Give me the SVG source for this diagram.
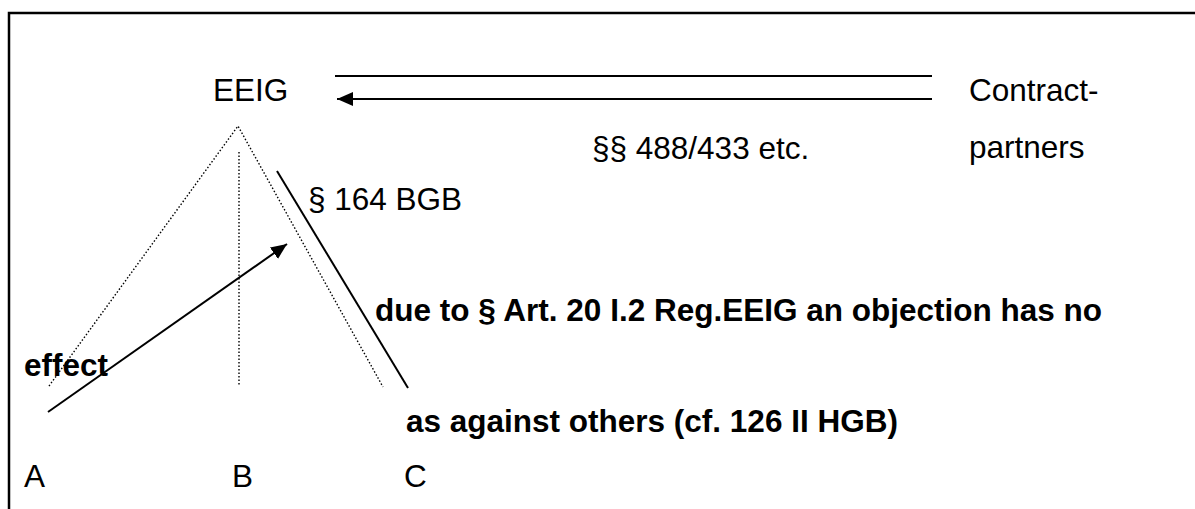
<svg xmlns="http://www.w3.org/2000/svg" width="1195" height="509" viewBox="0 0 1195 509">
  <style>
    .t { font-family: "Liberation Sans", Arial, sans-serif; font-size: 31.5px; fill: #000; }
    .b { font-weight: bold; }
    .solid { stroke: #000; stroke-width: 2; fill: none; }
    .dot { stroke: #000; stroke-width: 1.4; fill: none; stroke-dasharray: 1.5 2; }
  </style>
  <defs>
    <marker id="head" markerUnits="userSpaceOnUse" markerWidth="18" markerHeight="16" refX="16" refY="7" orient="auto">
      <path d="M0,0 L16,7 L0,14 z" fill="#000"/>
    </marker>
  </defs>
  <rect width="1195" height="509" fill="#fff"/>

  <!-- page frame (top and left edges only visible) -->
  <path d="M9,509 V13 H1195" fill="none" stroke="#000" stroke-width="2.5"/>

  <g id="eeig">
    <text class="t" x="213" y="101">EEIG</text>
  </g>

  <g id="contract-partners">
    <text class="t" x="969" y="101">Contract-</text>
    <text class="t" x="969" y="158">partners</text>
  </g>

  <g id="members">
    <g id="member-a"><text class="t" x="24" y="487">A</text></g>
    <g id="member-b"><text class="t" x="232" y="487">B</text></g>
    <g id="member-c"><text class="t" x="404" y="487">C</text></g>
  </g>

  <g id="connectors">
    <!-- contractual relation between partners and the EEIG -->
    <line class="solid" x1="335" y1="76" x2="932" y2="76"/>
    <line class="solid" x1="932" y1="99" x2="337" y2="99" marker-end="url(#head)"/>
    <!-- membership structure -->
    <polyline class="dot" points="49,386 238,126 383,387"/>
    <line class="dot" x1="239" y1="152" x2="239" y2="385"/>
    <!-- § 164 BGB representation -->
    <line class="solid" x1="277" y1="171" x2="408" y2="388"/>
    <!-- effect arrow from A -->
    <line class="solid" x1="48" y1="412" x2="287" y2="244" marker-end="url(#head)"/>
  </g>

  <g id="labels">
    <text class="t" x="592" y="159">§§ 488/433 etc.</text>
    <text class="t" x="308" y="210">§ 164 BGB</text>
    <text class="t b" x="375" y="321">due to § Art. 20 I.2 Reg.EEIG an objection has no</text>
    <text class="t b" x="24" y="376">effect</text>
    <text class="t b" x="406" y="432">as against others (cf. 126 II HGB)</text>
  </g>
</svg>
